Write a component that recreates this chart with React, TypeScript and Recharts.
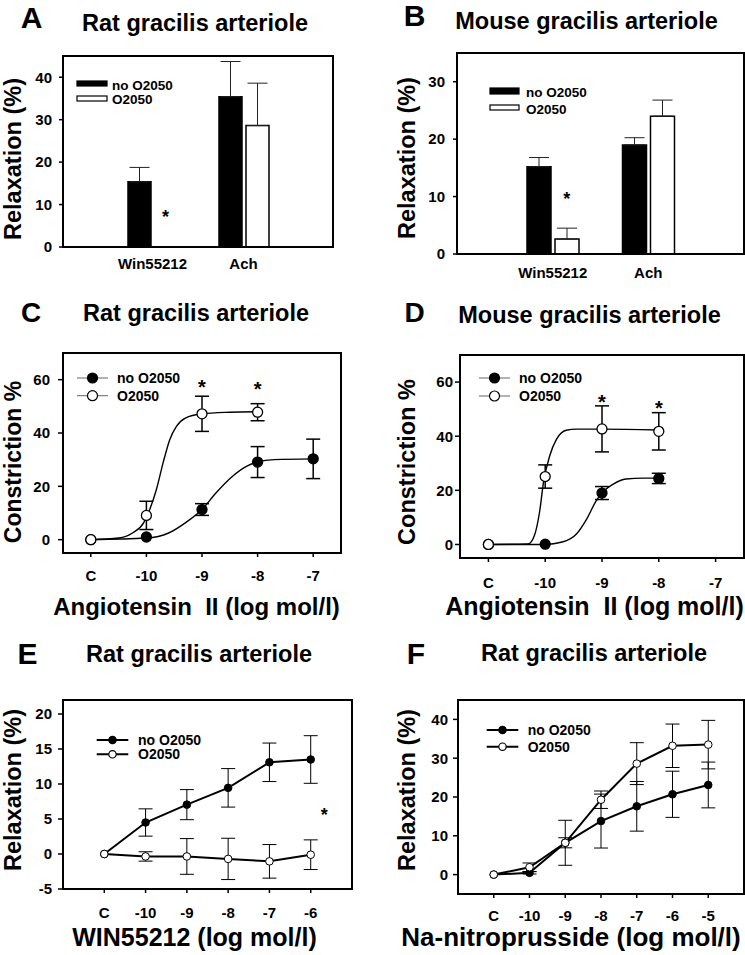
import React from "react";
import { ComposedChart, Bar, Line, Scatter, XAxis, YAxis, ErrorBar, ReferenceDot } from "recharts";

const FONT = '"Liberation Sans", Arial, Helvetica, sans-serif';

// A / B: single dose responses (bars), mean and SEM in %
const barCategories = ["Win55212", "Ach"];
const ratBarNo = [15.35, 35.4];
const ratBarNoSem = [3.4, 8.3];
const ratBarO = [0, 28.6];
const ratBarOSem = [1.2, 10.0];
const mouseBarNo = [15.2, 19.0];
const mouseBarNoSem = [1.6, 1.25];
const mouseBarO = [2.6, 24.0];
const mouseBarOSem = [1.9, 2.8];

// C / D: angiotensin II (log mol/l), -11 stands for the control "C"
const angDoses = [-11, -10, -9, -8, -7];
const angTickLabels = ["C", "-10", "-9", "-8", "-7"];
const ratAngNo = [0, 1.0, 11.3, 29.1, 30.3];
const ratAngNoSem = [0, 0, 2.2, 5.8, 7.4];
const ratAngO = [0, 9.1, 47.2, 47.8];
const ratAngOSem = [0, 5.3, 6.6, 3.2];
const mouseAngNo = [0, 0.1, 19.0, 24.4];
const mouseAngNoSem = [0, 0, 2.4, 1.9];
const mouseAngO = [0, 25.1, 42.7, 41.8];
const mouseAngOSem = [0, 4.3, 8.5, 6.9];

// fitted curves as [log dose, %]
const ratAngNoFit = [[-11, 0], [-10, 0.6], [-9.6, 2.5], [-9.3, 6.3], [-9.0, 11.3], [-8.75, 17.5], [-8.45, 23.8], [-8.2, 27.5], [-8.0, 29.1], [-7.7, 30.0], [-7, 30.3]];
const ratAngOFit = [[-11, 0], [-10.5, 0.6], [-10.25, 2.5], [-10.05, 6.3], [-9.94, 11.3], [-9.82, 18.8], [-9.7, 28.8], [-9.58, 37.5], [-9.46, 42.5], [-9.3, 45.6], [-9.0, 47.2], [-8.5, 47.8], [-8, 48.0]];
const mouseAngNoFit = [[-11, 0], [-10, 0], [-9.7, 0.9], [-9.45, 3.9], [-9.27, 9.4], [-9.1, 16.2], [-9.0, 19.0], [-8.8, 22.3], [-8.58, 24.2], [-8.27, 24.5], [-8, 24.5]];
const mouseAngOFit = [[-11, 0], [-10.3, 0.2], [-10.19, 3.3], [-10.1, 11.9], [-10.03, 22.9], [-9.92, 32.8], [-9.8, 38.9], [-9.63, 42.2], [-9.45, 42.6], [-9, 42.6], [-8, 42.3]];

// E: WIN55212 (log mol/l)
const winDoses = [-11, -10, -9, -8, -7, -6];
const winTickLabels = ["C", "-10", "-9", "-8", "-7", "-6"];
const winNo = [0, 4.5, 7.05, 9.45, 13.1, 13.5];
const winNoSem = [0, 1.95, 2.15, 2.75, 2.75, 3.4];
const winO = [0, -0.35, -0.35, -0.7, -1.05, -0.1];
const winOSem = [0, 0.67, 2.55, 2.95, 2.4, 2.12];

// F: Na-nitroprusside (log mol/l)
const snpDoses = [-11, -10, -9, -8, -7, -6, -5];
const snpTickLabels = ["C", "-10", "-9", "-8", "-7", "-6", "-5"];
const snpNo = [0, 0.45, 8.2, 13.8, 17.6, 20.7, 23.1];
const snpNoSem = [0, 0.3, 1.3, 6.95, 6.4, 5.95, 5.9];
const snpO = [0, 1.9, 8.2, 19.3, 28.6, 33.2, 33.5];
const snpOSem = [0, 1.1, 5.8, 2.25, 5.4, 5.6, 6.25];

const rows = (xs: number[], ys: number[], es: number[]) => ys.map((y, i) => ({ x: xs[i], y, e: es[i] }));
const fitRows = (pts: number[][]) => pts.map(([x, y]) => ({ x, y }));
const barRows = (no: number[], noSem: number[], o: number[], oSem: number[]) =>
  barCategories.map((cat, i) => ({ cat, no: no[i], o: o[i], noErr: [0, noSem[i]], oErr: [0, oSem[i]] }));

type Box = { x0: number; y0: number; x1: number; y1: number };
const YW = 60;
const MT = 12;
const MR = 10;
const XH = 45;

// plot areas of the six panels
const boxA: Box = { x0: 63, y0: 56, x1: 333, y1: 247 };
const boxB: Box = { x0: 457, y0: 53, x1: 744, y1: 254 };
const boxC: Box = { x0: 63, y0: 353, x1: 341, y1: 553 };
const boxD: Box = { x0: 460, y0: 355, x1: 744, y1: 558 };
const boxE: Box = { x0: 63, y0: 700, x1: 352, y1: 889 };
const boxF: Box = { x0: 458, y0: 700, x1: 744, y1: 894 };

const frameLine = { stroke: "#000", strokeWidth: 2 };
const tickLine = { stroke: "#000", strokeWidth: 1.5 };
const tickStyle = { fontSize: 15, fontWeight: 700, fill: "#000", fontFamily: FONT };

const star = (size: number, dx = 0) => (p: any) => (
  <text x={p.cx + dx} y={p.cy + size * 0.56} textAnchor="middle" fontSize={size} fontWeight={700} fontFamily={FONT} fill="#000">
    *
  </text>
);

const circle = (r: number, fill: string, sw = 1.3) => (p: any) => (
  <circle key={`c-${p.index}`} cx={p.cx} cy={p.cy} r={r} fill={fill} stroke="#000" strokeWidth={sw} />
);

function BarPanel({ box, data, yDomain, yTicks, pad, barSize, yTickMargin, xTickMargin, starY, starDx }: any) {
  const w = YW + (box.x1 - box.x0) + MR;
  const h = MT + (box.y1 - box.y0) + XH;
  return (
    <div style={{ position: "absolute", left: box.x0 - YW, top: box.y0 - MT }}>
      <ComposedChart width={w} height={h} data={data} margin={{ top: MT, right: MR, bottom: 0, left: 0 }} barGap={4}>
        <XAxis dataKey="cat" padding={{ left: pad, right: pad }} height={XH} tick={tickStyle} tickSize={0} tickMargin={xTickMargin} tickLine={false} axisLine={frameLine} interval={0} />
        <YAxis type="number" domain={yDomain} ticks={yTicks} allowDataOverflow width={YW} tick={tickStyle} tickSize={4} tickMargin={yTickMargin} tickLine={tickLine} axisLine={frameLine} interval={0} />
        <Bar dataKey="no" barSize={barSize} fill="#000" stroke="#000" strokeWidth={1.5} isAnimationActive={false}>
          <ErrorBar dataKey="noErr" direction="y" width={10} stroke="#222" strokeWidth={1} />
        </Bar>
        <Bar dataKey="o" barSize={barSize} fill="#fff" stroke="#000" strokeWidth={1.5} isAnimationActive={false}>
          <ErrorBar dataKey="oErr" direction="y" width={10} stroke="#222" strokeWidth={1} />
        </Bar>
        <ReferenceDot x={barCategories[0]} y={starY} r={0} shape={star(18, starDx)} />
      </ComposedChart>
    </div>
  );
}

function NumPanel({ box, xDomain, xTicks, xLabels, yDomain, yTicks, yTickMargin, xTickMargin, children }: any) {
  const w = YW + (box.x1 - box.x0) + MR;
  const h = MT + (box.y1 - box.y0) + XH;
  const fmt = (v: number) => xLabels[xTicks.indexOf(v)] ?? "";
  return (
    <div style={{ position: "absolute", left: box.x0 - YW, top: box.y0 - MT }}>
      <ComposedChart width={w} height={h} margin={{ top: MT, right: MR, bottom: 0, left: 0 }}>
        <XAxis dataKey="x" type="number" domain={xDomain} ticks={xTicks} tickFormatter={fmt} allowDataOverflow height={XH} tick={tickStyle} tickSize={4} tickMargin={xTickMargin} tickLine={tickLine} axisLine={frameLine} interval={0} />
        <YAxis dataKey="y" type="number" domain={yDomain} ticks={yTicks} allowDataOverflow width={YW} tick={tickStyle} tickSize={5} tickMargin={yTickMargin} tickLine={tickLine} axisLine={frameLine} interval={0} />
        {children}
      </ComposedChart>
    </div>
  );
}

function angSeries(noFit: number[][], oFit: number[][], no: any[], o: any[], stars: number[][]) {
  return [
    <Line key="nf" data={fitRows(noFit)} dataKey="y" type="monotone" stroke="#000" strokeWidth={1.4} dot={false} activeDot={false} isAnimationActive={false} />,
    <Line key="of" data={fitRows(oFit)} dataKey="y" type="monotone" stroke="#000" strokeWidth={1.4} dot={false} activeDot={false} isAnimationActive={false} />,
    <Scatter key="np" data={no} dataKey="y" shape={circle(5, "#000")} isAnimationActive={false}>
      <ErrorBar dataKey="e" direction="y" width={7} stroke="#000" strokeWidth={1.5} />
    </Scatter>,
    <Scatter key="op" data={o} dataKey="y" shape={circle(5, "#fff")} isAnimationActive={false}>
      <ErrorBar dataKey="e" direction="y" width={7} stroke="#000" strokeWidth={1.5} />
    </Scatter>,
    ...stars.map(([x, y], i) => <ReferenceDot key={`s${i}`} x={x} y={y} r={0} shape={star(20)} />),
  ];
}

function doseSeries(no: any[], o: any[]) {
  return [
    <Line key="n" data={no} dataKey="y" type="linear" stroke="#000" strokeWidth={2} dot={circle(3.8, "#000", 1)} activeDot={false} isAnimationActive={false}>
      <ErrorBar dataKey="e" direction="y" width={7} stroke="#000" strokeWidth={1} />
    </Line>,
    <Line key="o" data={o} dataKey="y" type="linear" stroke="#000" strokeWidth={2} dot={circle(3.8, "#fff", 1)} activeDot={false} isAnimationActive={false}>
      <ErrorBar dataKey="e" direction="y" width={7} stroke="#000" strokeWidth={1} />
    </Line>,
  ];
}

const T = ({ x, y, size, rot, children }: any) => (
  <text
    x={x}
    y={y}
    textAnchor="middle"
    dominantBaseline="central"
    fontSize={size}
    fontWeight={700}
    fontFamily={FONT}
    fill="#000"
    transform={rot ? `rotate(-90 ${x} ${y})` : undefined}
    style={{ whiteSpace: "pre" }}
  >
    {children}
  </text>
);

const Frame = ({ b }: { b: Box }) => (
  <rect x={b.x0} y={b.y0} width={b.x1 - b.x0} height={b.y1 - b.y0} fill="none" stroke="#000" strokeWidth={2} />
);

const BarKey = ({ x1, x2, y, h, fill, tx, ty, label }: any) => (
  <g>
    <rect x={x1} y={y - h / 2} width={x2 - x1} height={h} fill={fill} stroke="#000" strokeWidth={1.2} />
    <text x={tx} y={ty} dominantBaseline="central" fontSize={13.5} fontWeight={700} fontFamily={FONT}>{label}</text>
  </g>
);

const LineKey = ({ x1, x2, y, r, fill, stroke, sw, tx, label }: any) => (
  <g>
    <line x1={x1} x2={x2} y1={y} y2={y} stroke={stroke} strokeWidth={sw} />
    <circle cx={(x1 + x2) / 2} cy={y} r={r} fill={fill} stroke="#000" strokeWidth={1.2} />
    <text x={tx} y={y} dominantBaseline="central" fontSize={14} fontWeight={700} fontFamily={FONT}>{label}</text>
  </g>
);

export default function App() {
  const angX = [-11.5, -6.5];
  return (
    <div style={{ position: "absolute", left: 0, top: 0, width: 745, height: 955, overflow: "hidden", background: "#fff" }}>
      <BarPanel box={boxA} data={barRows(ratBarNo, ratBarNoSem, ratBarO, ratBarOSem)} yDomain={[0, 45]} yTicks={[0, 10, 20, 30, 40]} pad={44} barSize={23} yTickMargin={7} xTickMargin={11} starY={8} starDx={13} />
      <BarPanel box={boxB} data={barRows(mouseBarNo, mouseBarNoSem, mouseBarO, mouseBarOSem)} yDomain={[0, 35]} yTicks={[0, 10, 20, 30]} pad={48} barSize={24} yTickMargin={8} xTickMargin={13} starY={10.3} starDx={14} />

      <NumPanel box={boxC} xDomain={angX} xTicks={angDoses} xLabels={angTickLabels} yDomain={[-5, 70]} yTicks={[0, 20, 40, 60]} yTickMargin={8} xTickMargin={13}>
        {angSeries(ratAngNoFit, ratAngOFit, rows(angDoses, ratAngNo, ratAngNoSem), rows(angDoses, ratAngO, ratAngOSem), [[-9, 58.8], [-8, 58.1]])}
      </NumPanel>
      <NumPanel box={boxD} xDomain={angX} xTicks={angDoses} xLabels={angTickLabels} yDomain={[-5, 70]} yTicks={[0, 20, 40, 60]} yTickMargin={2} xTickMargin={15}>
        {angSeries(mouseAngNoFit, mouseAngOFit, rows(angDoses, mouseAngNo, mouseAngNoSem), rows(angDoses, mouseAngO, mouseAngOSem), [[-9, 54.2], [-8, 51.8]])}
      </NumPanel>

      <NumPanel box={boxE} xDomain={[-12, -5]} xTicks={winDoses} xLabels={winTickLabels} yDomain={[-5, 22]} yTicks={[-5, 0, 5, 10, 15, 20]} yTickMargin={6} xTickMargin={14}>
        {[...doseSeries(rows(winDoses, winNo, winNoSem), rows(winDoses, winO, winOSem)), <ReferenceDot key="st" x={-5.67} y={6.1} r={0} shape={star(18)} />]}
      </NumPanel>
      <NumPanel box={boxF} xDomain={[-12, -4]} xTicks={snpDoses} xLabels={snpTickLabels} yDomain={[-5, 45]} yTicks={[0, 10, 20, 30, 40]} yTickMargin={5} xTickMargin={12}>
        {doseSeries(rows(snpDoses, snpNo, snpNoSem), rows(snpDoses, snpO, snpOSem))}
      </NumPanel>

      <svg width={745} height={955} style={{ position: "absolute", left: 0, top: 0, pointerEvents: "none" }}>
        <Frame b={boxA} />
        <Frame b={boxB} />
        <Frame b={boxC} />
        <Frame b={boxD} />
        <Frame b={boxE} />
        <Frame b={boxF} />

        <T x={31.5} y={17.5} size={30}>A</T>
        <T x={195} y={23} size={23.5}>Rat gracilis arteriole</T>
        <T x={414.5} y={15.5} size={30}>B</T>
        <T x={586.5} y={21} size={23.5}>Mouse gracilis arteriole</T>
        <T x={31} y={312} size={28}>C</T>
        <T x={196} y={313} size={23.5}>Rat gracilis arteriole</T>
        <T x={414.5} y={312} size={28}>D</T>
        <T x={589.5} y={315} size={23.5}>Mouse gracilis arteriole</T>
        <T x={27.5} y={653} size={30}>E</T>
        <T x={199} y={654} size={23.5}>Rat gracilis arteriole</T>
        <T x={416} y={653} size={30}>F</T>
        <T x={594} y={653} size={23.5}>Rat gracilis arteriole</T>

        <T x={13} y={159} size={23.5} rot>Relaxation (%)</T>
        <T x={407} y={158} size={23.5} rot>Relaxation (%)</T>
        <T x={13} y={462} size={23} rot>Constriction %</T>
        <T x={407} y={462} size={23.5} rot>Constriction %</T>
        <T x={13} y={790} size={23.5} rot>Relaxation (%)</T>
        <T x={407} y={790} size={23.5} rot>Relaxation (%)</T>

        <T x={196.5} y={606} size={24}>{"Angiotensin  II (log mol/l)"}</T>
        <T x={594.5} y={606} size={25}>{"Angiotensin  II (log mol/l)"}</T>
        <T x={194.5} y={937} size={25}>WIN55212 (log mol/l)</T>
        <T x={571} y={937} size={26}>Na-nitroprusside (log mol/l)</T>

        <BarKey x1={77} x2={107} y={83.5} h={5} fill="#000" tx={112} ty={85} label="no O2050" />
        <BarKey x1={77} x2={107} y={98.5} h={5} fill="#fff" tx={112} ty={99.5} label="O2050" />
        <BarKey x1={490} x2={519} y={91} h={6} fill="#000" tx={526} ty={92.5} label="no O2050" />
        <BarKey x1={490} x2={519} y={107.5} h={5} fill="#fff" tx={526} ty={109} label="O2050" />

        <LineKey x1={77} x2={108} y={378} r={5} fill="#000" stroke="#666" sw={1} tx={117} label="no O2050" />
        <LineKey x1={77} x2={108} y={395.7} r={5} fill="#fff" stroke="#666" sw={1} tx={117} label="O2050" />
        <LineKey x1={479} x2={510} y={378} r={5} fill="#000" stroke="#666" sw={1} tx={519} label="no O2050" />
        <LineKey x1={479} x2={510} y={396} r={5} fill="#fff" stroke="#666" sw={1} tx={519} label="O2050" />
        <LineKey x1={96.7} x2={128.3} y={740} r={3.7} fill="#000" stroke="#000" sw={2} tx={138} label="no O2050" />
        <LineKey x1={96.7} x2={128.3} y={754.3} r={3.7} fill="#fff" stroke="#000" sw={2} tx={138} label="O2050" />
        <LineKey x1={486.7} x2={518.3} y={730} r={3.7} fill="#000" stroke="#000" sw={2} tx={527.7} label="no O2050" />
        <LineKey x1={486.7} x2={518.3} y={746.7} r={3.7} fill="#fff" stroke="#000" sw={2} tx={527.7} label="O2050" />
      </svg>
    </div>
  );
}
